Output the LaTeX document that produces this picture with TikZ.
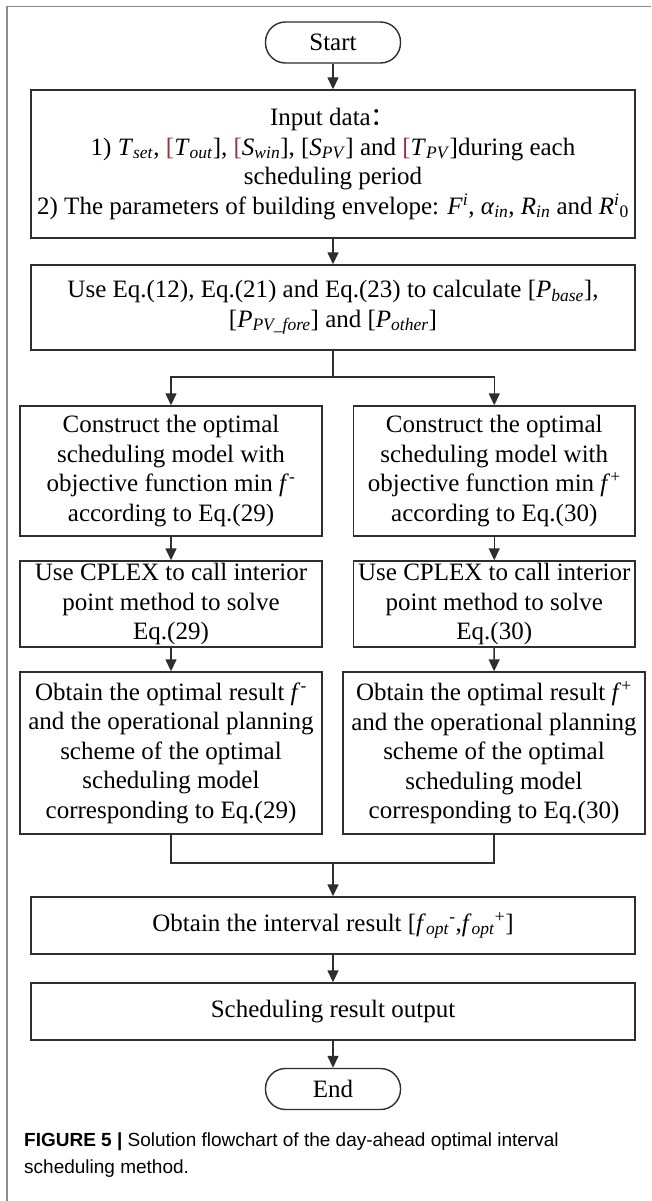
\documentclass[tikz,border=0pt]{standalone}
\usepackage{fontspec}
\setmainfont{Liberation Serif}
\newfontfamily\capfont{Liberation Sans}
\newfontfamily\cjkfont{Noto Sans CJK SC}
\usetikzlibrary{arrows.meta}
\definecolor{framegray}{gray}{0.55}
\definecolor{boxline}{gray}{0.18}
\definecolor{brk}{rgb}{0.6,0.2,0.25}
% italic symbol with italic subscript
\newcommand{\vsub}[2]{\textit{#1}\textsubscript{\textit{#2}}}
\begin{document}
\begin{tikzpicture}[x=1pt, y=-1pt,
  flowbox/.style={draw=boxline, line width=1.4pt, inner sep=0pt, align=center,
    font=\fontsize{25}{29.5}\selectfont, text=black},
  terminal/.style={flowbox, rounded corners=20pt, minimum width=135pt, minimum height=41pt},
  flowarrow/.style={draw=boxline, line width=1.4pt, -{Triangle[length=12pt,width=11pt]}},
  link/.style={draw=boxline, line width=1.4pt},
  captext/.style={anchor=base west, inner sep=0pt, font=\capfont\fontsize{19}{23}\selectfont}]
\useasboundingbox (0,0) rectangle (651,1201);
\fill[white] (0,0) rectangle (651,1201);
% outer figure frame (top and left edges)
\draw[framegray, line width=1.5pt] (651,6.5) -- (7,6.5) -- (7,1201);

% flowchart nodes
\node[terminal] (start) at (333,42.5) {Start};
\node[flowbox, minimum width=604pt, minimum height=148pt] (input) at (333,164)
  {Input data{\cjkfont ：}\\
   1) \vsub{T}{set}, {\color{brk}[}\vsub{T}{out}], {\color{brk}[}\vsub{S}{win}], [\vsub{S}{PV}] and {\color{brk}[}\vsub{T}{PV}]during each\\
   scheduling period\\
   2) The parameters of building envelope: \textit{F}\textsuperscript{\textit{i}}, \vsub{α}{in}, \vsub{R}{in} and \textit{R}\textsuperscript{\textit{i}}\textsubscript{0}};
\node[flowbox, minimum width=604pt, minimum height=85pt] (calc) at (333,307.5)
  {Use Eq.(12), Eq.(21) and Eq.(23) to calculate [\vsub{P}{base}],\\
   {[}\vsub{P}{PV\_fore}] and [\vsub{P}{other}]};
\coordinate (split) at (333,377);

\node[flowbox, minimum width=302pt, minimum height=130pt] (consL) at (171,471)
  {Construct the optimal\\ scheduling model with\\ objective function min \textit{f}\textsuperscript{-}\\ according to Eq.(29)};
\node[flowbox, minimum width=281.5pt, minimum height=130pt] (consR) at (494.25,471)
  {Construct the optimal\\ scheduling model with\\ objective function min \textit{f}\textsuperscript{+}\\ according to Eq.(30)};

\node[flowbox, minimum width=302pt, minimum height=86pt] (solveL) at (171,604)
  {Use CPLEX to call interior\\ point method to solve\\ Eq.(29)};
\node[flowbox, minimum width=281.5pt, minimum height=86pt] (solveR) at (494.25,604)
  {Use CPLEX to call interior\\ point method to solve\\ Eq.(30)};

\node[flowbox, minimum width=302pt, minimum height=162pt] (resL) at (171,753)
  {Obtain the optimal result \textit{f}\textsuperscript{-}\\ and the operational planning\\ scheme of the optimal\\ scheduling model\\ corresponding to Eq.(29)};
\node[flowbox, minimum width=302pt, minimum height=162pt] (resR) at (494,753)
  {Obtain the optimal result \textit{f}\textsuperscript{+}\\ and the operational planning\\ scheme of the optimal\\ scheduling model\\ corresponding to Eq.(30)};
\coordinate (merge) at (333,863);

\node[flowbox, minimum width=604pt, minimum height=57pt] (interval) at (333,925.5)
  {Obtain the interval result [\vsub{f}{opt}\textsuperscript{-},\vsub{f}{opt}\textsuperscript{+}]};
\node[flowbox, minimum width=604pt, minimum height=57pt] (output) at (333,1011.5)
  {Scheduling result output};
\node[terminal] (end) at (333,1089) {End};

% connectors
\draw[flowarrow] (start) -- (input);
\draw[flowarrow] (input) -- (calc);
\draw[link] (calc) -- (split);
\draw[flowarrow] (split) -| (consL.north);
\draw[flowarrow] (split) -| (consR.north);
\draw[flowarrow] (consL) -- (solveL);
\draw[flowarrow] (consR) -- (solveR);
\draw[flowarrow] (solveL) -- (resL);
\draw[flowarrow] (solveR) -- (resR);
\draw[link] (resL.south) |- (merge);
\draw[link] (resR.south) |- (merge);
\draw[flowarrow] (merge) -- (interval);
\draw[flowarrow] (interval) -- (output);
\draw[flowarrow] (output) -- (end);

% caption
\node[captext] (cap1) at (24,1146) {\textbf{FIGURE 5 |} Solution flowchart of the day-ahead optimal interval};
\node[captext] (cap2) at (24,1173) {scheduling method.};
\end{tikzpicture}
\end{document}
